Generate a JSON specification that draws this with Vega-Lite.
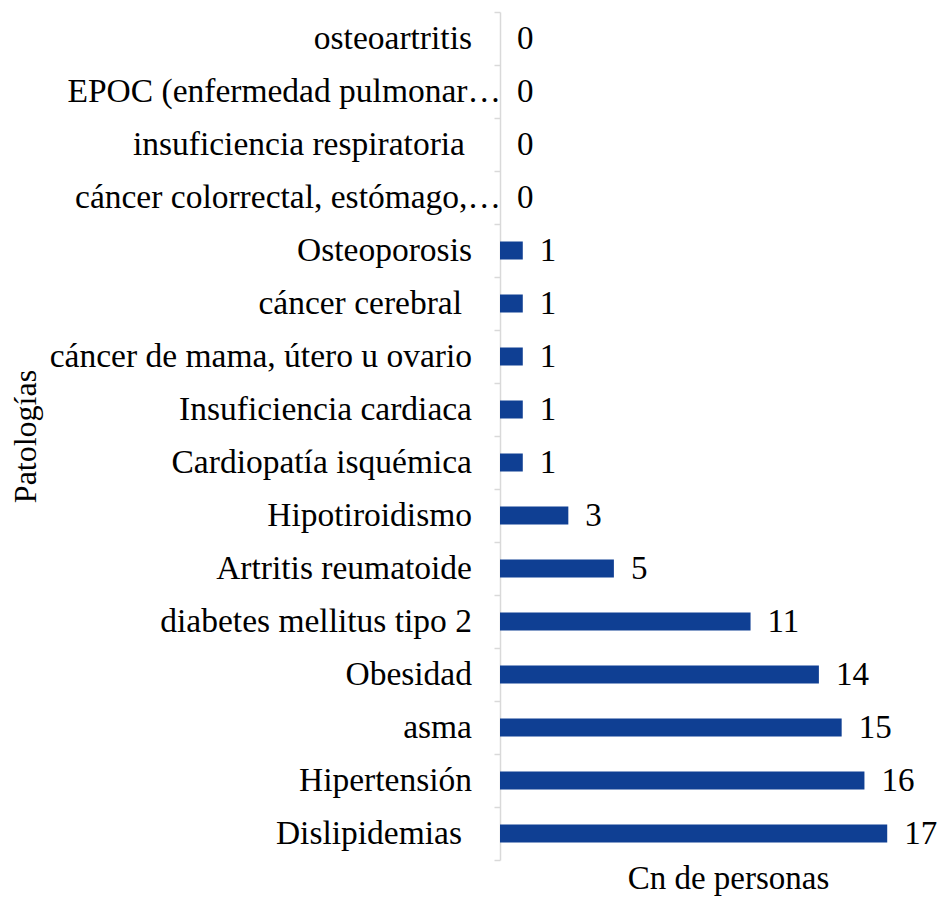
{
  "$schema": "https://vega.github.io/schema/vega-lite/v6.json",
  "autosize": "none",
  "width": 410,
  "height": 848,
  "padding": {"left": 500, "top": 12, "right": 33, "bottom": 39},
  "background": "white",
  "config": {"view": {"stroke": null}, "font": "Liberation Serif"},
  "data": {
    "values": [
      {"patologia": "osteoartritis", "n": 0},
      {"patologia": "EPOC (enfermedad pulmonar…", "n": 0},
      {"patologia": "insuficiencia respiratoria", "n": 0},
      {"patologia": "cáncer colorrectal, estómago,…", "n": 0},
      {"patologia": "Osteoporosis", "n": 1},
      {"patologia": "cáncer cerebral", "n": 1},
      {"patologia": "cáncer de mama, útero u ovario", "n": 1},
      {"patologia": "Insuficiencia cardiaca", "n": 1},
      {"patologia": "Cardiopatía isquémica", "n": 1},
      {"patologia": "Hipotiroidismo", "n": 3},
      {"patologia": "Artritis reumatoide", "n": 5},
      {"patologia": "diabetes mellitus tipo 2", "n": 11},
      {"patologia": "Obesidad", "n": 14},
      {"patologia": "asma", "n": 15},
      {"patologia": "Hipertensión", "n": 16},
      {"patologia": "Dislipidemias", "n": 17}
    ]
  },
  "encoding": {
    "y": {
      "field": "patologia",
      "type": "nominal",
      "sort": null,
      "scale": {"paddingInner": 0, "paddingOuter": 0},
      "axis": {
        "title": "Patologías",
        "titleFont": "Liberation Serif",
        "titleFontSize": 32,
        "titleFontWeight": "normal",
        "titleColor": "#000000",
        "titleX": -475,
        "titleBaseline": "middle",
        "domainColor": "#d9d9d9",
        "domainWidth": 1.5,
        "tickColor": "#d9d9d9",
        "tickWidth": 1.5,
        "tickSize": 6,
        "tickBand": "extent",
        "labels": false,
        "grid": false
      }
    },
    "x": {
      "field": "n",
      "type": "quantitative",
      "scale": {"domain": [0, 18], "nice": false},
      "axis": {
        "title": "Cn de personas",
        "titleFont": "Liberation Serif",
        "titleFontSize": 33,
        "titleFontWeight": "normal",
        "titleColor": "#000000",
        "titleX": 228,
        "titleY": 28,
        "titleBaseline": "alphabetic",
        "titleAnchor": "middle",
        "domain": false,
        "ticks": false,
        "labels": false,
        "grid": false
      }
    }
  },
  "layer": [
    {"mark": {"type": "bar", "color": "#0f3f93", "size": 18}},
    {
      "mark": {"type": "text", "align": "left", "baseline": "middle", "dx": 17, "font": "Liberation Serif", "fontSize": 33, "color": "#000000"},
      "encoding": {"text": {"field": "n", "type": "quantitative"}}
    },
    {
      "transform": [{"filter": "indexof(datum.patologia, '…') < 0 && datum.patologia != 'Dislipidemias' && datum.patologia != 'cáncer cerebral' && datum.patologia != 'insuficiencia respiratoria'"}],
      "mark": {"type": "text", "align": "right", "baseline": "middle", "dx": -28, "font": "Liberation Serif", "fontSize": 33.5, "color": "#000000"},
      "encoding": {"x": {"datum": 0}, "text": {"field": "patologia", "type": "nominal"}}
    },
    {
      "transform": [{"filter": "indexof(datum.patologia, '…') >= 0"}],
      "mark": {"type": "text", "align": "right", "baseline": "middle", "dx": 1, "font": "Liberation Serif", "fontSize": 33.5, "color": "#000000"},
      "encoding": {"x": {"datum": 0}, "text": {"field": "patologia", "type": "nominal"}}
    },
    {
      "transform": [{"filter": "datum.patologia == 'Dislipidemias' || datum.patologia == 'cáncer cerebral'"}],
      "mark": {"type": "text", "align": "right", "baseline": "middle", "dx": -38, "font": "Liberation Serif", "fontSize": 33.5, "color": "#000000"},
      "encoding": {"x": {"datum": 0}, "text": {"field": "patologia", "type": "nominal"}}
    },
    {
      "transform": [{"filter": "datum.patologia == 'insuficiencia respiratoria'"}],
      "mark": {"type": "text", "align": "right", "baseline": "middle", "dx": -35, "font": "Liberation Serif", "fontSize": 33.5, "color": "#000000"},
      "encoding": {"x": {"datum": 0}, "text": {"field": "patologia", "type": "nominal"}}
    }
  ]
}
